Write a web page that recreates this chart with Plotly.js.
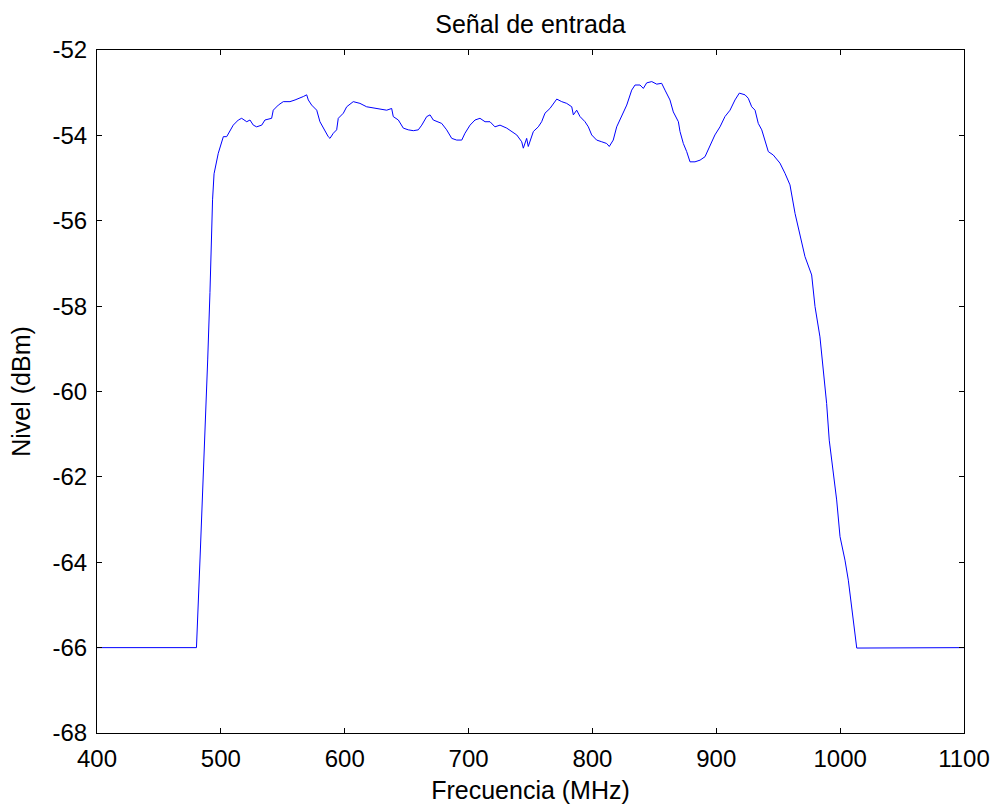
<!DOCTYPE html>
<html>
<head>
<meta charset="utf-8">
<script src="https://cdn.plot.ly/plotly-3.0.1.min.js"></script>
<style>html,body{margin:0;padding:0;background:#fff;}#chart{width:998px;height:808px;}</style>
</head>
<body>
<div id="chart"></div>
<script>
// Frequency (MHz)
const freq = [
  400, 480.3, 483.4, 485.5, 488.1, 489.4, 491.2, 493.3, 494.5, 497.9,
  502.0, 504.7, 510.0, 514.1, 516.8, 520.9, 523.5, 526.2, 528.9, 533.0,
  535.6, 541.0, 542.3, 546.4, 550.4, 555.8, 559.9, 563.9, 566.6, 569.3,
  570.6, 573.3, 577.4, 580.0, 582.7, 586.7, 588.1, 590.8, 593.5, 594.8,
  598.9, 601.6, 606.9, 612.3, 617.7, 625.8, 633.9, 637.9, 639.2, 643.3,
  647.3, 651.3, 655.4, 659.4, 662.2, 666.2, 668.9, 671.5, 675.6, 678.3,
  682.3, 686.4, 690.4, 694.5, 697.1, 701.2, 705.2, 709.2, 713.3, 717.3,
  721.3, 725.4, 730.8, 734.8, 738.9, 742.9, 744.2, 746.9, 748.2, 752.3,
  756.3, 759.0, 761.7, 765.7, 771.2, 775.2, 779.2, 783.3, 784.6, 787.3,
  790.0, 794.0, 796.7, 799.4, 803.4, 807.5, 811.5, 813.6, 816.8, 819.6,
  823.6, 827.7, 831.7, 834.4, 838.4, 841.1, 843.8, 847.9, 851.9, 855.9,
  858.6, 862.6, 865.3, 869.4, 870.7, 873.4, 876.1, 878.8, 882.8, 886.9,
  890.9, 893.6, 896.3, 898.9, 903.0, 907.0, 911.1, 915.1, 918.6, 923.2,
  925.8, 928.6, 931.3, 933.9, 936.7, 939.3, 942.0, 946.0, 951.4, 955.5,
  959.5, 963.6, 967.6, 971.6, 977.0, 979.7, 983.7, 986.4, 989.1, 991.2,
  994.0, 997.2, 999.9, 1003.9, 1006.6, 1009.3, 1011.4, 1013.4, 1100
];
// Level (dBm)
const level = [
  -66.00, -66.00, -63.76, -62.28, -60.36, -59.24, -57.68, -55.51, -54.90, -54.42,
  -54.03, -54.03, -53.76, -53.64, -53.60, -53.68, -53.64, -53.76, -53.80, -53.76,
  -53.64, -53.60, -53.41, -53.29, -53.21, -53.21, -53.17, -53.13, -53.09, -53.05,
  -53.17, -53.29, -53.41, -53.68, -53.83, -54.03, -54.07, -53.95, -53.87, -53.60,
  -53.48, -53.33, -53.21, -53.25, -53.33, -53.37, -53.41, -53.37, -53.56, -53.64,
  -53.83, -53.87, -53.89, -53.87, -53.76, -53.56, -53.52, -53.64, -53.68, -53.72,
  -53.87, -54.07, -54.11, -54.11, -53.95, -53.76, -53.64, -53.60, -53.68, -53.68,
  -53.80, -53.76, -53.83, -53.91, -53.99, -54.15, -54.30, -54.07, -54.26, -53.91,
  -53.80, -53.68, -53.48, -53.37, -53.15, -53.21, -53.25, -53.33, -53.52, -53.41,
  -53.56, -53.68, -53.80, -53.99, -54.11, -54.15, -54.19, -54.26, -54.11, -53.80,
  -53.56, -53.29, -52.94, -52.82, -52.82, -52.90, -52.77, -52.74, -52.80, -52.78,
  -52.94, -53.17, -53.45, -53.68, -53.91, -54.19, -54.38, -54.62, -54.62, -54.58,
  -54.50, -54.34, -54.15, -53.99, -53.80, -53.56, -53.41, -53.17, -53.01, -53.05,
  -53.13, -53.33, -53.41, -53.72, -53.87, -54.11, -54.38, -54.46, -54.65, -54.89,
  -55.16, -55.83, -56.37, -56.84, -57.27, -58.01, -58.72, -59.50, -60.28, -61.14,
  -61.84, -62.54, -63.40, -63.95, -64.42, -65.04, -65.59, -66.01, -66.00
];
const xTicks = [400, 500, 600, 700, 800, 900, 1000, 1100];
const yTicks = [-68, -66, -64, -62, -60, -58, -56, -54, -52];

const fontFam = 'Liberation Sans, Arial, sans-serif';
const trace = {
  x: freq, y: level, type: 'scatter', mode: 'lines',
  line: {color: '#0000ff', width: 1}, hoverinfo: 'skip'
};
const axisCommon = {
  showline: true, mirror: 'ticks', linecolor: '#000', linewidth: 1,
  ticks: 'inside', ticklen: 5, tickcolor: '#000', tickwidth: 1,
  showgrid: false, zeroline: false,
  tickfont: {family: fontFam, size: 24, color: '#000'}
};
const layout = {
  width: 998, height: 808,
  margin: {l: 97, r: 34, t: 50, b: 75},
  paper_bgcolor: '#fff', plot_bgcolor: '#fff',
  showlegend: false,
  title: {text: 'Señal de entrada', font: {family: fontFam, size: 25, color: '#000'},
          xref: 'paper', x: 0.5, xanchor: 'center', y: 1 - 24/808, yanchor: 'middle'},
  xaxis: Object.assign({}, axisCommon, {
    range: [400, 1100], tickvals: xTicks, ticktext: xTicks.map(String),
    ticklabelstandoff: 4,
    title: {text: 'Frecuencia (MHz)', font: {family: fontFam, size: 25, color: '#000'}, standoff: 10}
  }),
  yaxis: Object.assign({}, axisCommon, {
    range: [-68, -52], tickvals: yTicks, ticktext: yTicks.map(String),
    ticklabelstandoff: 4,
    title: {text: 'Nivel (dBm)', font: {family: fontFam, size: 25, color: '#000'}, standoff: 14}
  })
};
Plotly.newPlot('chart', [trace], layout, {displayModeBar: false, staticPlot: true});
</script>
</body>
</html>
